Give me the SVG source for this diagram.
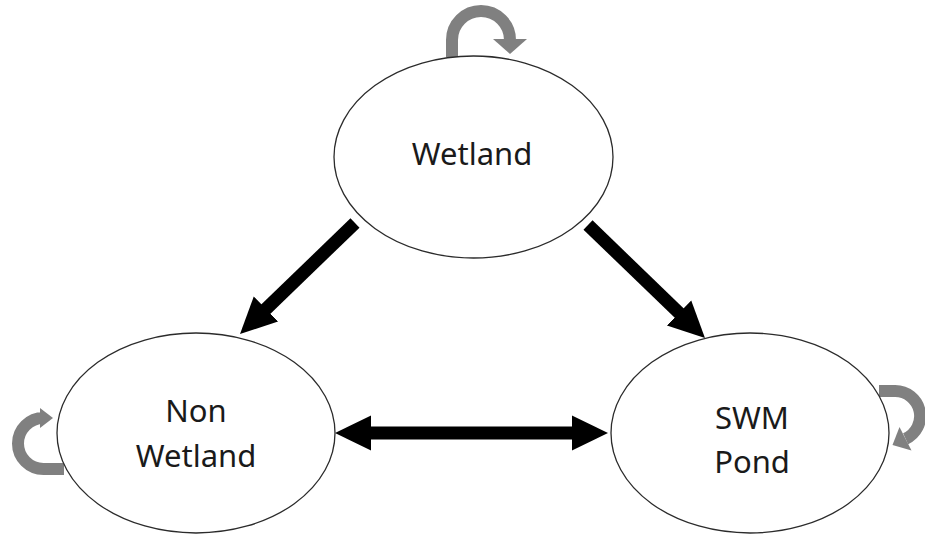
<svg xmlns="http://www.w3.org/2000/svg" width="925" height="535" viewBox="0 0 925 535">
  <style>
    .node { fill: #ffffff; stroke: #2b2b2b; stroke-width: 1.3; }
    .label { font-family: "Noto Sans", "Open Sans", sans-serif; font-size: 31px; fill: #1a1a1a; text-anchor: middle; }
    .conn { stroke: #000000; stroke-width: 13; fill: none; }
    .loop { stroke: #808080; stroke-width: 12; fill: none; }
    .loophead { fill: #808080; }
  </style>
  <defs>
    <marker id="head" markerUnits="userSpaceOnUse" markerWidth="40" markerHeight="40" viewBox="0 -20 40 40" refX="1" refY="0" orient="auto-start-reverse">
      <path d="M0,-17.5 L36,0 L0,17.5 Z" fill="#000000"/>
    </marker>
  </defs>

  <rect width="925" height="535" fill="#ffffff"/>

  <g id="connectors">
    <line class="conn" x1="355" y1="223" x2="265.2" y2="309.7" marker-end="url(#head)"/>
    <line class="conn" x1="588" y1="225" x2="679.8" y2="313.7" marker-end="url(#head)"/>
    <line class="conn" x1="370" y1="433" x2="573" y2="433" marker-start="url(#head)" marker-end="url(#head)"/>
  </g>

  <g id="loops">
    <g id="loop-wetland">
      <path class="loop" d="M452,57 L452,40 A29,29 0 0 1 510,40"/>
      <polygon class="loophead" points="493,39 527,39 510,54"/>
    </g>
    <g id="loop-nonwetland">
      <path class="loop" d="M64,469 L43.5,469 A25.5,25.5 0 0 1 43.5,418 L41,418"/>
      <polygon class="loophead" points="40,408 40,428 53,418"/>
    </g>
    <g id="loop-swmpond">
      <path class="loop" d="M879,391 L895,391 A25,25 0 0 1 905.6,438.7"/>
      <polygon class="loophead" points="911.5,450.5 899.5,427 892.5,445"/>
    </g>
  </g>

  <g id="node-wetland">
    <ellipse class="node" cx="473.5" cy="157" rx="139.5" ry="101"/>
    <text class="label" x="472" y="165">Wetland</text>
  </g>

  <g id="node-nonwetland">
    <ellipse class="node" cx="196" cy="433" rx="139" ry="100"/>
    <text class="label" x="196" y="422">Non</text>
    <text class="label" x="196" y="467">Wetland</text>
  </g>

  <g id="node-swmpond">
    <ellipse class="node" cx="750" cy="433" rx="139" ry="100"/>
    <text class="label" x="752" y="429">SWM</text>
    <text class="label" x="752" y="473">Pond</text>
  </g>
</svg>
